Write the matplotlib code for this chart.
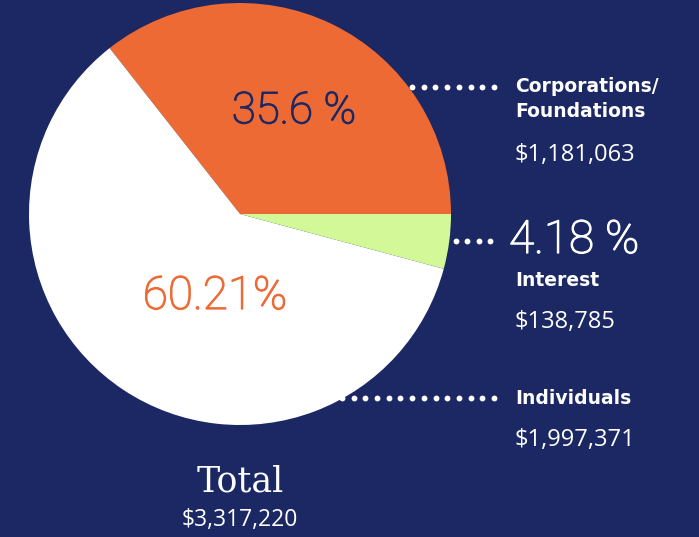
import matplotlib
matplotlib.use("Agg")
import matplotlib.pyplot as plt
import matplotlib.patheffects as pe
import numpy as np

# Data
categories = ["Corporations/\nFoundations", "Individuals", "Interest"]
amounts = [1181063, 1997371, 138785]
pct_labels = ["35.6 %", "60.21%", "4.18 %"]
amount_labels = ["$1,181,063", "$1,997,371", "$138,785"]
total_label = "$3,317,220"

NAVY = "#1b2864"
ORANGE = "#ee6a34"
WHITE = "#ffffff"
GREEN = "#d2f898"
colors = [ORANGE, WHITE, GREEN]

W, H = 699, 537
fig = plt.figure(figsize=(W / 100, H / 100), dpi=100, facecolor=NAVY)
ax = fig.add_axes([0, 0, 1, 1])
ax.set_facecolor(NAVY)

cx, cy, r = 240, 214, 211
wedges, _ = ax.pie(amounts, colors=colors, startangle=0, counterclock=False,
                   center=(cx, cy), radius=r, frame=True,
                   wedgeprops=dict(linewidth=0))
ax.set_xlim(0, W)
ax.set_ylim(H, 0)
ax.set_aspect("equal")
ax.axis("off")

# percentages (handwritten style approximated)
pfont = "Roboto"
pw = "light"
def pct(x, y, s, c, fs, ha):
    t = ax.text(x, y, s, color=c, fontsize=fs, family=pfont, fontweight=pw,
                ha=ha, va="center")
    t.set_path_effects([pe.Stroke(linewidth=0.9, foreground=c), pe.Normal()])

pct(294, 111, pct_labels[0], NAVY, 31.5, "center")
pct(215, 296, pct_labels[1], ORANGE, 33, "center")
pct(509, 240, pct_labels[2], WHITE, 33, "left")

# dotted leaders
def dots(x0, x1, y, n):
    xs = np.linspace(x0, x1, n)
    ax.plot(xs, [y] * n, "o", color=WHITE, markersize=4.2, markeredgewidth=0)

dots(412, 494, 87, 8)
dots(456, 490, 241, 4)
dots(342, 494, 398, 14)

bfont = "DejaVu Sans"
rfont = "Open Sans"
ax.text(515, 99, categories[0], color=WHITE, fontsize=13.5, family=bfont,
        fontweight="bold", ha="left", va="center", linespacing=1.35)
ax.text(514, 155, amount_labels[0], color=WHITE, fontsize=17, family=rfont,
        ha="left", va="center")
ax.text(515, 281, categories[2], color=WHITE, fontsize=13.5, family=bfont,
        fontweight="bold", ha="left", va="center")
ax.text(514, 322, amount_labels[2], color=WHITE, fontsize=17, family=rfont,
        ha="left", va="center")
ax.text(515, 399, categories[1], color=WHITE, fontsize=13.5, family=bfont,
        fontweight="bold", ha="left", va="center")
ax.text(514, 440, amount_labels[1], color=WHITE, fontsize=17, family=rfont,
        ha="left", va="center")

ax.text(240, 482, "Total", color=WHITE, fontsize=25, family="DejaVu Serif",
        ha="center", va="center")
ax.text(240, 520, total_label, color=WHITE, fontsize=16.5, family=rfont,
        ha="center", va="center")

fig.savefig("out.png", dpi=100, facecolor=NAVY)
